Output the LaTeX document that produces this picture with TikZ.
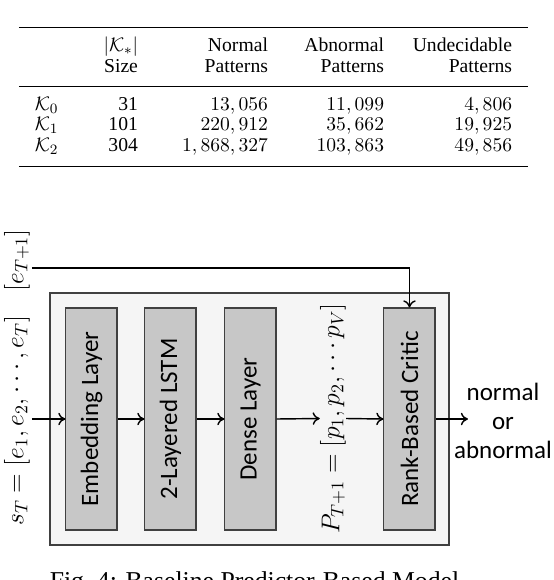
\documentclass[tikz,border=0pt]{standalone}
\usepackage{fontspec}
\setmainfont{Liberation Serif}
\newfontfamily\layerfont{Carlito}
\usepackage{booktabs,array}
\usetikzlibrary{arrows.meta,positioning}
\newcolumntype{R}[1]{>{\raggedleft\arraybackslash}p{#1}}
\setlength{\belowrulesep}{5pt}
\setlength{\aboverulesep}{4.4pt}

\begin{document}
\begin{tikzpicture}[
  x=0.56pt, y=-0.56pt,
  every node/.style={inner sep=0pt},
  layer/.style={draw=black!75, fill=black!22, line width=0.6pt, rotate=90,
    minimum width=124.3pt, minimum height=28.6pt,
    font=\layerfont\fontsize{14}{16}\selectfont},
  flow/.style={-{To[length=4pt,width=7pt]}, line width=0.8pt},
  mathlbl/.style={rotate=90, font=\fontsize{13.6}{16}\selectfont},
]
\useasboundingbox (0,0) rectangle (554,580);
% Table (column edges measured off the reference)
\node[anchor=north] (tab) at (273.5,26.3) {\fontsize{11}{11.5}\selectfont
  \setlength{\tabcolsep}{0pt}%
  \begin{tabular}{@{\hspace{9pt}}p{30.8pt}R{26.9pt}R{72.8pt}R{65pt}R{71.7pt}@{\hspace{9pt}}}
    \toprule
     & $|\mathcal{K}_*|$ & Normal & Abnormal & Undecidable \\
     & Size & Patterns & Patterns & Patterns \\
    \midrule
    $\mathcal{K}_0$ & 31 & $13,056$ & $11,099$ & $4,806$ \\
    $\mathcal{K}_1$ & 101 & $220,912$ & $35,662$ & $19,925$ \\
    $\mathcal{K}_2$ & 304 & $1,868,327$ & $103,863$ & $49,856$ \\
    \bottomrule
  \end{tabular}};
% Model container
\filldraw[draw=black!75, fill=black!4, line width=0.6pt] (50,293) rectangle (449,545);
% Layers
\node[layer] (emb) at (91.5,419) {Embedding Layer};
\node[layer] (lstm) at (170.5,419) {2-Layered LSTM};
\node[layer] (dense) at (250.5,419) {Dense Layer};
\node[layer] (critic) at (409.5,419) {Rank-Based Critic};
% Input / output labels
\node[mathlbl] (seq) at (17,377.5) {$s_T = [e_1, e_2, \cdots, e_T]\quad[e_{T+1}]$};
\node[mathlbl, font=\fontsize{14}{16}\selectfont] (prob) at (333,418.5) {$P_{T+1} = [p_1, p_2, \cdots p_V]$};
\node[align=center, font=\layerfont\fontsize{14}{16.2}\selectfont] (verdict) at (503,421)
  {normal\\or\\abnormal};
\coordinate (in) at (32,419);
\coordinate (fb) at (32,268);
\coordinate (res) at (468,419);
% Connectors
\draw[flow] (in) -- (emb);
\draw[flow] (emb) -- (lstm);
\draw[flow] (lstm) -- (dense);
\draw[flow] (dense.south) -- (prob.north);
\draw[flow] (prob.south) -- (critic.north);
\draw[flow] (critic.south) -- (res);
\draw[flow] (fb) -| (critic.east);
% Caption
\node[anchor=base, font=\fontsize{14.4}{17}\selectfont] (cap) at (254.5,589)
  {Fig.~4: Baseline Predictor-Based Model};
\end{tikzpicture}
\end{document}
